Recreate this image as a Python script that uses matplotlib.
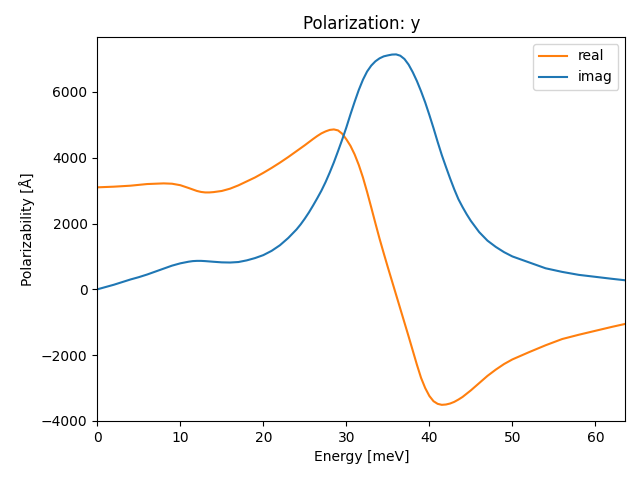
import matplotlib
matplotlib.use("Agg")
import matplotlib.pyplot as plt

# Data
energy_real = [0, 2, 4, 6, 8, 9, 10, 11, 12, 12.5, 13, 13.5, 14, 15, 16, 17, 18, 19, 20,
               21, 22, 23, 24, 25, 26, 26.5, 27, 27.5, 28, 28.5, 29, 29.5, 30, 30.5, 31,
               31.5, 32, 32.5, 33, 33.5, 34, 34.5, 35, 35.5, 36, 36.5, 37, 37.5, 38, 38.5,
               39, 39.5, 40, 40.5, 41, 41.5, 42, 42.5, 43, 43.5, 44, 45, 46, 47, 48, 49,
               50, 52, 54, 56, 58, 60, 62, 63.6]
real = [3100, 3120, 3150, 3200, 3220, 3210, 3165, 3080, 2990, 2960, 2945, 2945, 2955,
        2990, 3060, 3160, 3280, 3400, 3540, 3690, 3850, 4020, 4200, 4380, 4570, 4660,
        4740, 4800, 4845, 4860, 4830, 4730, 4560, 4360, 4100, 3780, 3400, 2960, 2490,
        2010, 1540, 1100, 670, 250, -170, -590, -1010, -1430, -1860, -2290, -2690, -3000,
        -3240, -3400, -3480, -3510, -3500, -3470, -3420, -3350, -3270, -3070, -2850,
        -2630, -2440, -2270, -2130, -1910, -1700, -1510, -1380, -1260, -1140, -1050]

energy_imag = [0, 1, 2, 3, 4, 5, 6, 7, 8, 9, 10, 11, 11.5, 12, 12.5, 13, 14, 15, 16, 17,
               18, 19, 20, 21, 22, 23, 24, 24.5, 25, 25.5, 26, 26.5, 27, 27.5, 28, 28.5,
               29, 29.5, 30, 30.5, 31, 31.5, 32, 32.5, 33, 33.5, 34, 34.5, 35, 35.5, 36,
               36.5, 37, 37.5, 38, 38.5, 39, 39.5, 40, 40.5, 41, 41.5, 42, 42.5, 43, 43.5,
               44, 44.5, 45, 46, 47, 48, 49, 50, 52, 54, 56, 58, 60, 62, 63.6]
imag = [0, 70, 140, 220, 300, 370, 450, 540, 630, 720, 790, 840, 858, 865, 865, 858, 838,
        820, 815, 830, 880, 950, 1040, 1170, 1340, 1560, 1820, 1975, 2150, 2340, 2550,
        2770, 3000, 3260, 3550, 3860, 4200, 4550, 4920, 5320, 5700, 6060, 6370, 6620,
        6800, 6930, 7020, 7080, 7110, 7135, 7140, 7100, 7000, 6830, 6600, 6330, 6020,
        5680, 5300, 4900, 4480, 4080, 3720, 3370, 3040, 2740, 2500, 2280, 2080, 1740,
        1480, 1290, 1130, 1000, 820, 640, 530, 440, 380, 320, 275]

fig, ax = plt.subplots(figsize=(6.4, 4.8), dpi=100)

ax.plot(energy_real, real, color="C1", label="real")
ax.plot(energy_imag, imag, color="C0", label="imag")

ax.set_xlim(0, 63.6)
ax.set_ylim(-4000, 7670)
ax.set_xlabel("Energy [meV]")
ax.set_ylabel("Polarizability [Å]")
ax.set_title("Polarization: y")
ax.legend(loc="upper right")

fig.subplots_adjust(left=0.152, right=0.977, top=0.923, bottom=0.123)
fig.savefig("out.png")
